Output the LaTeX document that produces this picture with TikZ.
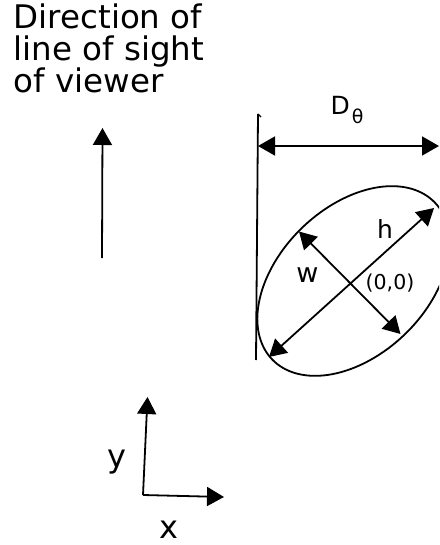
\documentclass[tikz,border=0pt]{standalone}
\usepackage{fontspec}
\setmainfont{DejaVu Sans}
\usetikzlibrary{arrows.meta}
\begin{document}
\begin{tikzpicture}[x=1pt,y=-1pt,
  ln/.style={line width=1.8pt},
  tip/.style={-{Triangle[length=17pt,width=19pt]}},
  dtip/.style={{Triangle[length=17pt,width=19pt]}-{Triangle[length=17pt,width=19pt]}},
  lbl/.style={inner sep=0pt,font=\fontsize{32.5}{33}\selectfont}]
\useasboundingbox (0,0) rectangle (439,545);
\clip (0,0) rectangle (439,545);
% title text
\node[lbl,anchor=base west] (t1) at (13.5,28.5) {Direction of};
\node[lbl,anchor=base west] (t2) at (13.5,61) {line of sight};
\node[lbl,anchor=base west] (t3) at (13.5,92.5) {of viewer};
% viewing direction arrow
\coordinate (va) at (102,258);
\coordinate (vb) at (102.5,128);
\draw[ln,tip] (va) -- (vb);
% tangent line
\coordinate (lt) at (258,114);
\coordinate (lb) at (256,360);
\draw[ln] (lt) -- (lb);
\draw[line width=1.2pt] (lt) -- (261,117);
% D arrow
\coordinate (da) at (258,146);
\coordinate (db) at (439,146);
\draw[ln,dtip] (da) -- (db);
\node[inner sep=0pt,anchor=base west,font=\fontsize{25}{25}\selectfont] (dl) at (330.5,115)
  {D\kern2pt\raisebox{-9pt}{\fontsize{19}{19}\selectfont θ}};
% ellipse (centre 353.5,281; semi-axes 113 and 74; tilted 44 degrees)
\coordinate (c) at (353.5,281);
\draw[ln] plot[domain=0:360,samples=145,smooth cycle,variable=\t]
  ({353.5+113*cos(\t)*0.7193-74*sin(\t)*0.6947},{281-(113*cos(\t)*0.6947+74*sin(\t)*0.7193)});
\coordinate (h1) at (434,208);
\coordinate (h2) at (269,357);
\coordinate (w1) at (299,231.5);
\coordinate (w2) at (400.5,334);
\draw[ln,dtip] (h2) -- (h1);
\draw[ln,dtip] (w1) -- (w2);
\node[inner sep=0pt,anchor=base,font=\fontsize{25}{25}\selectfont] (hl) at (385,238) {h};
\node[inner sep=0pt,anchor=base,font=\fontsize{27}{27}\selectfont] (wl) at (307.5,282) {w};
\node[inner sep=0pt,anchor=base,font=\fontsize{20.5}{21}\selectfont] (ol) at (390,289) {(0,0)};
% axes
\coordinate (o) at (143,495);
\coordinate (ya) at (147.5,397);
\coordinate (xa) at (224,497);
\draw[ln,tip] (o) -- (ya);
\draw[ln,tip] (o) -- (xa);
\node[inner sep=0pt,anchor=base,font=\fontsize{32}{32}\selectfont] (yl) at (116.5,467) {y};
\node[inner sep=0pt,anchor=base,font=\fontsize{32}{32}\selectfont] (xl) at (168.5,538) {x};
\end{tikzpicture}
\end{document}
